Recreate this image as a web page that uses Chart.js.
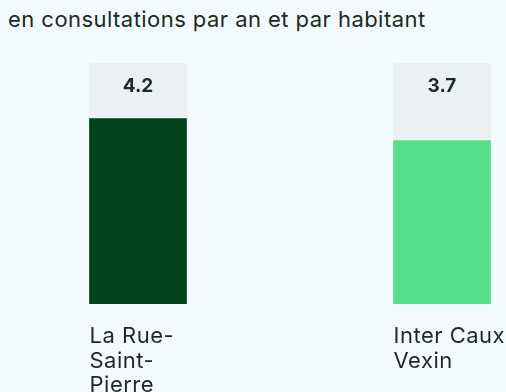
<!DOCTYPE html>
<html lang="fr">
<head>
<meta charset="utf-8">
<script src="https://cdn.jsdelivr.net/npm/chart.js@4.4.1/dist/chart.umd.min.js"></script>
<style>
  html, body {
    margin: 0;
    padding: 0;
    width: 506px;
    height: 392px;
    overflow: hidden;
    background: #f3fafd;
    font-family: Inter, "Noto Sans", sans-serif;
  }
  .subtitle {
    position: absolute;
    left: 8px;
    top: 6px;
    font-size: 22px;
    letter-spacing: 0.45px;
    color: #1b2b23;
    white-space: nowrap;
  }
  .chart-box {
    position: absolute;
    left: -14px;
    top: 0;
    width: 608px;
    height: 392px;
  }
</style>
</head>
<body>
<div class="subtitle">en consultations par an et par habitant</div>
<div class="chart-box"><canvas id="consultChart"></canvas></div>
<script>
// Data
const territories = ['La Rue-Saint-Pierre', 'Inter Caux Vexin'];
const territoryLines = [['La Rue-', 'Saint-', 'Pierre'], ['Inter Caux', 'Vexin']];
const consultations = [4.2, 3.7];
const valueLabels = ['4.2', '3.7'];
const barColors = ['#00431a', '#58df89'];
const scaleMax = 5.46;
const backdrop = [scaleMax, scaleMax];

const TEXT_COLOR = '#1b2b23';

// Value in the grey cap, territory name under each bar
const barLabels = {
    id: 'barLabels',
    afterDatasetsDraw(chart) {
        const ctx = chart.ctx;
        const meta = chart.getDatasetMeta(0);
        const yScale = chart.scales.y;
        ctx.save();
        meta.data.forEach((bar, i) => {
            const half = bar.width / 2;
            // value
            ctx.font = 'bold 19px Inter, "Noto Sans", sans-serif';
            ctx.letterSpacing = '0px';
            ctx.fillStyle = TEXT_COLOR;
            ctx.textAlign = 'center';
            ctx.textBaseline = 'middle';
            ctx.fillText(valueLabels[i], bar.x, yScale.getPixelForValue(scaleMax) + 23);
            // name
            ctx.font = '22px Inter, "Noto Sans", sans-serif';
            ctx.letterSpacing = '0.5px';
            ctx.textAlign = 'left';
            ctx.textBaseline = 'alphabetic';
            territoryLines[i].forEach((line, j) => {
                ctx.fillText(line, bar.x - half, bar.base + 39 + j * 24.5);
            });
        });
        ctx.restore();
    }
};

document.addEventListener('DOMContentLoaded', function() {
    const ctx = document.getElementById('consultChart').getContext('2d');
    new Chart(ctx, {
        type: 'bar',
        data: {
            labels: territories,
            datasets: [
                {
                    data: consultations,
                    backgroundColor: barColors,
                    borderWidth: 0,
                    barThickness: 97,
                    grouped: false,
                    order: 1
                },
                {
                    data: backdrop,
                    backgroundColor: '#ebf1f3',
                    borderWidth: 0,
                    barThickness: 97,
                    grouped: false,
                    order: 2
                }
            ]
        },
        options: {
            responsive: true,
            maintainAspectRatio: false,
            animation: false,
            layout: {
                padding: { top: 63, bottom: 88, left: 0, right: 0 }
            },
            plugins: {
                legend: { display: false },
                tooltip: { enabled: false }
            },
            scales: {
                x: { display: false, offset: true },
                y: { display: false, min: 0, max: scaleMax }
            }
        },
        plugins: [barLabels]
    });
});
</script>
</body>
</html>
